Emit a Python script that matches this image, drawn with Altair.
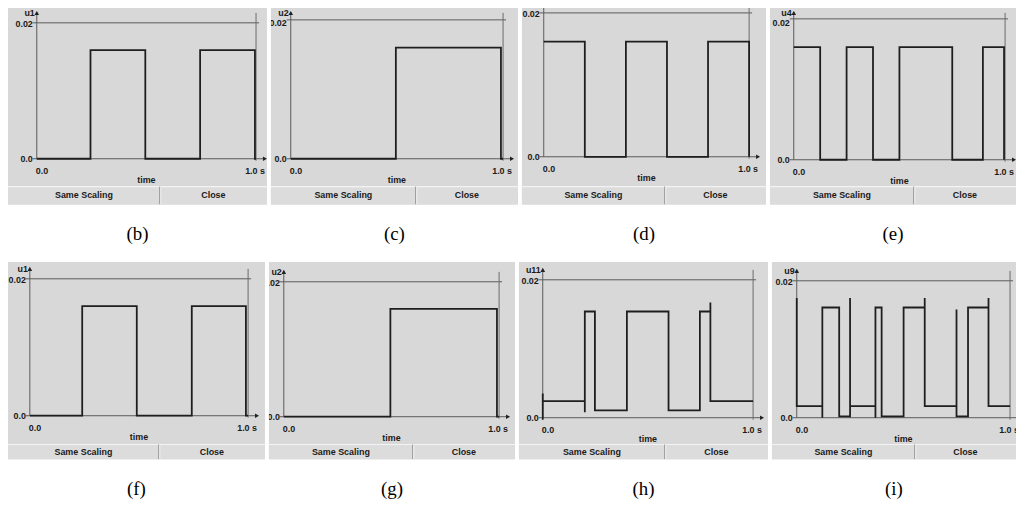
import altair as alt
import pandas as pd

# ---------------- data ----------------
b_t = [0.0, 0.245, 0.495, 0.745, 0.995, 1.0]
b_v = [0.0, 0.016, 0.0, 0.016, 0.0, 0.0]

c_t = [0.0, 0.495, 0.99, 1.0]
c_v = [0.0, 0.016, 0.0, 0.0]

d_t = [0.0, 0.2, 0.4, 0.6, 0.8, 1.0]
d_v = [0.016, 0.0, 0.016, 0.0, 0.016, 0.0]

e_t = [0.0, 0.125, 0.25, 0.375, 0.5, 0.75, 0.895, 0.995]
e_v = [0.016, 0.0, 0.016, 0.0, 0.016, 0.0, 0.016, 0.0]

f_t = [0.0, 0.24, 0.49, 0.742, 0.99, 1.0]
f_v = [0.0, 0.016, 0.0, 0.016, 0.0, 0.0]

g_t = [0.0, 0.495, 0.99, 1.0]
g_v = [0.0, 0.016, 0.0, 0.0]

h_t = [0.0, 0.0, 0.0, 0.2, 0.2, 0.248, 0.4, 0.598, 0.747, 0.797, 0.797, 1.0]
h_v = [0.0035, -0.0003, 0.0024, 0.0008, 0.0154, 0.00105, 0.0154, 0.00105,
       0.0154, 0.0167, 0.0024, 0.0024]

i_t = [0.0, 0.0, 0.12, 0.12, 0.199, 0.25, 0.25, 0.369, 0.369, 0.398, 0.501,
       0.6, 0.6, 0.749, 0.749, 0.803, 0.899, 0.899, 1.0]
i_v = [0.0175, 0.0017, 0.0, 0.0161, 0.0002, 0.0175, 0.0017, 0.0, 0.0161,
       0.0002, 0.0161, 0.0175, 0.0017, 0.0158, 0.0002, 0.0161, 0.0175,
       0.0017, 0.0017]

series_t = [b_t, c_t, d_t, e_t, f_t, g_t, h_t, i_t]
series_v = [b_v, c_v, d_v, e_v, f_v, g_v, h_v, i_v]
var_names = ["u1", "u2", "u3", "u4", "u1", "u2", "u11", "u9"]
captions = ["(b)", "(c)", "(d)", "(e)", "(f)", "(g)", "(h)", "(i)"]
y_top_label = "0.02"
y_zero_label = "0.0"
x_start_label = "0.0"
x_end_label = "1.0 s"
x_title = "time"
buttons = ["Same Scaling", "Close"]

# ---------------- layout (pixels inside each grey panel) ----------------
# ny: vertical position of the variable name / top arrow
layout = [
    dict(w=261, h=201, x0=29, x1=250, y2=18, yz=155, st=183, ny=8),
    dict(w=249, h=201, x0=20, x1=234, y2=15, yz=155, st=183, ny=8),
    dict(w=246, h=201, x0=22, x1=229, y2=8, yz=153, st=183, ny=-2),
    dict(w=248, h=201, x0=24, x1=237, y2=14, yz=156, st=183, ny=8),
    dict(w=259, h=199, x0=22, x1=242, y2=17, yz=155, st=184, ny=7),
    dict(w=248, h=199, x0=15, x1=232, y2=20, yz=156, st=184, ny=10),
    dict(w=251, h=199, x0=24, x1=236, y2=18, yz=157, st=184, ny=8),
    dict(w=246, h=199, x0=25, x1=240, y2=19, yz=157, st=184, ny=9),
]

BG = "#d8d8d8"
STRIP = "#dcdcdc"
AXIS = "#5a5a5a"
LINE = "#1e1e1e"
TXT = "#1a1a1a"
FONT = "Liberation Sans"

one = pd.DataFrame({"k": [0]})


def panel(k):
    L = layout[k]
    w, h, x0, x1, y2, yz, st, ny = (L["w"], L["h"], L["x0"], L["x1"],
                                    L["y2"], L["yz"], L["st"], L["ny"])
    sx = float(x1 - x0)
    xdom = [-x0 / sx, (w - x0) / sx]
    sy = (yz - y2) / 0.02
    ydom = [(yz - h) / sy, yz / sy]
    div = round(w * 0.585)

    strip = alt.Chart(one).mark_rect(color=STRIP).encode(
        x=alt.value(0), x2=alt.value(w), y=alt.value(st), y2=alt.value(h))

    rules = pd.DataFrame([
        dict(x=0, x2=w, y=st, y2=st, c="#f3f3f3", s=1.2),
        dict(x=div, x2=div, y=st, y2=h, c="#8a8a8a", s=1),
        dict(x=div + 1, x2=div + 1, y=st, y2=h, c="#f3f3f3", s=1),
        dict(x=x0, x2=x0, y=yz, y2=ny - 1, c=AXIS, s=1),
        dict(x=x0 - 4, x2=x1 + 9, y=yz, y2=yz, c=AXIS, s=1),
        dict(x=x0 - 4, x2=x0, y=y2, y2=y2, c=AXIS, s=1),
        dict(x=x0, x2=x1 + 3, y=y2, y2=y2, c=AXIS, s=1),
        dict(x=x1, x2=x1, y=yz + 2, y2=ny, c="#6a6a6a", s=1),
    ])
    rule_layer = alt.Chart(rules).mark_rule(clip=True).encode(
        x=alt.X("x:Q", scale=None, axis=None), x2="x2:Q",
        y=alt.Y("y:Q", scale=None, axis=None), y2="y2:Q",
        color=alt.Color("c:N", scale=None),
        strokeWidth=alt.StrokeWidth("s:Q", scale=None))

    arrows = pd.DataFrame([
        dict(x=x0, y=ny, sh="triangle-up"),
        dict(x=x1 + 9, y=yz, sh="triangle-right"),
    ])
    arrow_layer = alt.Chart(arrows).mark_point(
        filled=True, color="#222222", size=22, opacity=1, clip=True).encode(
        x=alt.X("x:Q", scale=None, axis=None),
        y=alt.Y("y:Q", scale=None, axis=None),
        shape=alt.Shape("sh:N", scale=None))

    df = pd.DataFrame({"t": series_t[k], "v": series_v[k],
                       "i": list(range(len(series_t[k])))})
    line = alt.Chart(df).mark_line(
        interpolate="step-after", color=LINE, strokeWidth=1.8, clip=True).encode(
        x=alt.X("t:Q", scale=alt.Scale(domain=xdom, nice=False, zero=False),
                axis=None),
        y=alt.Y("v:Q", scale=alt.Scale(domain=ydom, nice=False, zero=False),
                axis=None),
        order="i:Q")

    tc = (st + h) / 2.0
    center = pd.DataFrame([
        dict(x=div / 2.0, y=tc, s=buttons[0]),
        dict(x=(div + w) / 2.0, y=tc, s=buttons[1]),
        dict(x=(x0 + x1) / 2.0, y=yz + 21, s=x_title),
        dict(x=x1 - 1, y=yz + 12, s=x_end_label),
    ])
    left = pd.DataFrame([dict(x=x0 - 1, y=yz + 12, s=x_start_label)])
    right = pd.DataFrame([
        dict(x=x0 - 4, y=yz, s=y_zero_label),
        dict(x=x0 - 4, y=max(y2 + 1, ny + 10), s=y_top_label),
        dict(x=x0 - 2, y=ny, s=var_names[k]),
    ])

    def texts(d, align):
        return alt.Chart(d).mark_text(
            align=align, baseline="middle", font=FONT, fontSize=9,
            fontWeight="bold", color=TXT, clip=True).encode(
            x=alt.X("x:Q", scale=None, axis=None),
            y=alt.Y("y:Q", scale=None, axis=None),
            text="s:N")

    return alt.layer(
        strip, rule_layer, line, arrow_layer,
        texts(center, "center"), texts(left, "left"), texts(right, "right"),
    ).properties(
        width=w, height=h,
        title=alt.TitleParams(
            text=captions[k], orient="bottom", anchor="middle",
            font="Liberation Serif", fontSize=19, fontWeight="normal",
            color="#000000", offset=21, baseline="top"),
    )


row1 = alt.hconcat(*[panel(k) for k in range(4)], spacing=4)
row2 = alt.hconcat(*[panel(k) for k in range(4, 8)], spacing=4)

chart = alt.vconcat(row1, row2, spacing=18).properties(
    padding={"left": 0, "top": -5, "right": 0, "bottom": 0},
    background="#ffffff",
).configure_view(fill=BG, stroke=None)

chart.save("out.html", embed_options={"renderer": "svg", "actions": False})
